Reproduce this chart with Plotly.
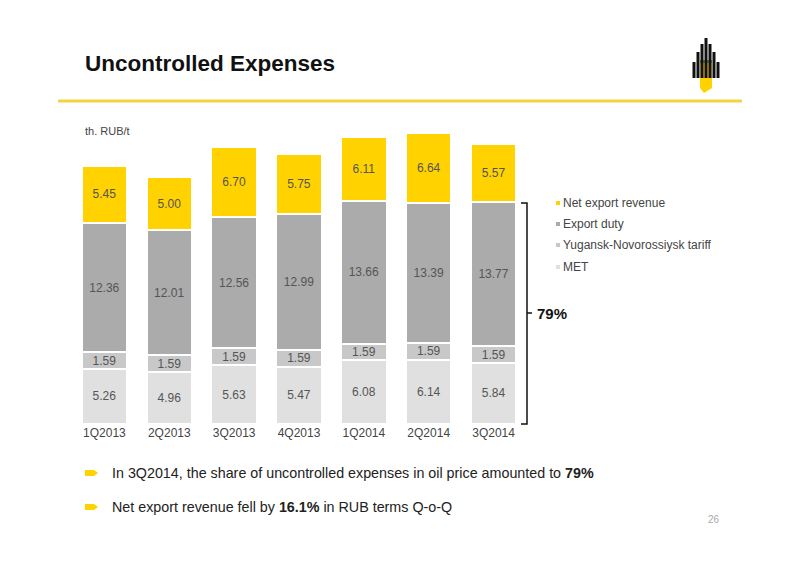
import plotly.graph_objects as go

categories = ["1Q2013","2Q2013","3Q2013","4Q2013","1Q2014","2Q2014","3Q2014"]
met = [5.26,4.96,5.63,5.47,6.08,6.14,5.84]
tariff = [1.59,1.59,1.59,1.59,1.59,1.59,1.59]
duty = [12.36,12.01,12.56,12.99,13.66,13.39,13.77]
net = [5.45,5.00,6.70,5.75,6.11,6.64,5.57]
series = [("MET",met,"#e0e0e0"),("Yugansk-Novorossiysk tariff",tariff,"#c8c8c8"),
          ("Export duty",duty,"#ababab"),("Net export revenue",net,"#ffd200")]

W,H=800,566
OFF=8
def px(x): return (x-OFF)/W
def py(y): return 1-(y-OFF)/H

fig=go.Figure()
for name,vals,col in series:
    fig.add_trace(go.Bar(x=categories,y=vals,name=name,marker=dict(color=col,line=dict(color="white",width=2)),
        text=[f"{v:.2f}" for v in vals],textposition="inside",insidetextanchor="middle",constraintext="none",
        textfont=dict(color="#555",size=12,family="Liberation Sans"),showlegend=False))
fig.update_layout(barmode="stack",bargap=0.3,width=W,height=H,margin=dict(l=0,r=0,t=0,b=0),
    plot_bgcolor="white",paper_bgcolor="white",font=dict(family="Liberation Sans"),
    xaxis=dict(domain=[px(72),px(526)],showline=False,ticks="",tickfont=dict(size=12,color="#444")),
    yaxis=dict(domain=[py(424),py(110)],range=[0,30],visible=False))

ann=[]
ann.append(dict(x=px(83),y=py(63),text="<b>Uncontrolled Expenses</b>",font=dict(size=22.5,color="#111"),xanchor="left",yanchor="middle"))
ann.append(dict(x=px(83),y=py(131),text="th. RUB/t",font=dict(size=11,color="#444"),xanchor="left",yanchor="middle"))
legend=[("Net export revenue","#ffd200",203),("Export duty","#ababab",224),("Yugansk-Novorossiysk tariff","#c8c8c8",245),("MET","#e0e0e0",267)]
shapes=[]
for t,c,y in legend:
    ann.append(dict(x=px(561),y=py(y),text=t,font=dict(size=12,color="#444"),xanchor="left",yanchor="middle"))
    shapes.append(dict(type="rect",xref="paper",yref="paper",x0=px(556),x1=px(560),y0=py(y+2),y1=py(y-2),fillcolor=c,line=dict(width=0)))
ann.append(dict(x=px(535),y=py(313),text="<b>79%</b>",font=dict(size=15,color="#111"),xanchor="left",yanchor="middle"))
ann.append(dict(x=px(110),y=py(473),text="In 3Q2014, the share of uncontrolled expenses in oil price amounted to <b>79%</b>",font=dict(size=14.3,color="#222"),xanchor="left",yanchor="middle"))
ann.append(dict(x=px(110),y=py(507),text="Net export revenue fell by <b>16.1%</b> in RUB terms Q-o-Q",font=dict(size=14.3,color="#222"),xanchor="left",yanchor="middle"))
ann.append(dict(x=px(722),y=py(519),text="26",font=dict(size=10,color="#aaa"),xanchor="right",yanchor="middle"))
for a in ann: a.update(xref="paper",yref="paper",showarrow=False)

shapes.append(dict(type="line",xref="paper",yref="paper",x0=px(58),x1=px(742),y0=py(101),y1=py(101),line=dict(color="#f2d340",width=3)))
def path(pts): return "M "+" L ".join(f"{px(x)},{py(y)}" for x,y in pts)+" Z"
def opath(pts): return "M "+" L ".join(f"{px(x)},{py(y)}" for x,y in pts)
shapes.append(dict(type="path",xref="paper",yref="paper",path=opath([(521,203),(527,203),(527,424),(521,424)]),line=dict(color="#111",width=1.5)))
shapes.append(dict(type="line",xref="paper",yref="paper",x0=px(527),x1=px(532),y0=py(313),y1=py(313),line=dict(color="#111",width=1.5)))
for y in (473,507):
    shapes.append(dict(type="path",xref="paper",yref="paper",path=path([(85,y-3),(94,y-3),(98,y),(94,y+3),(85,y+3)]),fillcolor="#ffd200",line=dict(width=0)))
bars=[(694,62),(698,52),(702,44),(706,38),(710,44),(714,52),(718,62)]
for x,top in bars:
    shapes.append(dict(type="rect",xref="paper",yref="paper",x0=px(x-1.5),x1=px(x+1.5),y0=py(78),y1=py(top),fillcolor="#111",line=dict(width=0)))
shapes.append(dict(type="path",xref="paper",yref="paper",path=path([(700,63),(712,63),(712,88),(704,93),(700,88)]),fillcolor="#ffd200",line=dict(width=0)))
for x in (702,706,710):
    shapes.append(dict(type="rect",xref="paper",yref="paper",x0=px(x-1.5),x1=px(x+1.5),y0=py(78),y1=py(60),fillcolor="#111",line=dict(width=0)))
fig.update_layout(annotations=ann,shapes=shapes)
fig.write_html("out.html")
